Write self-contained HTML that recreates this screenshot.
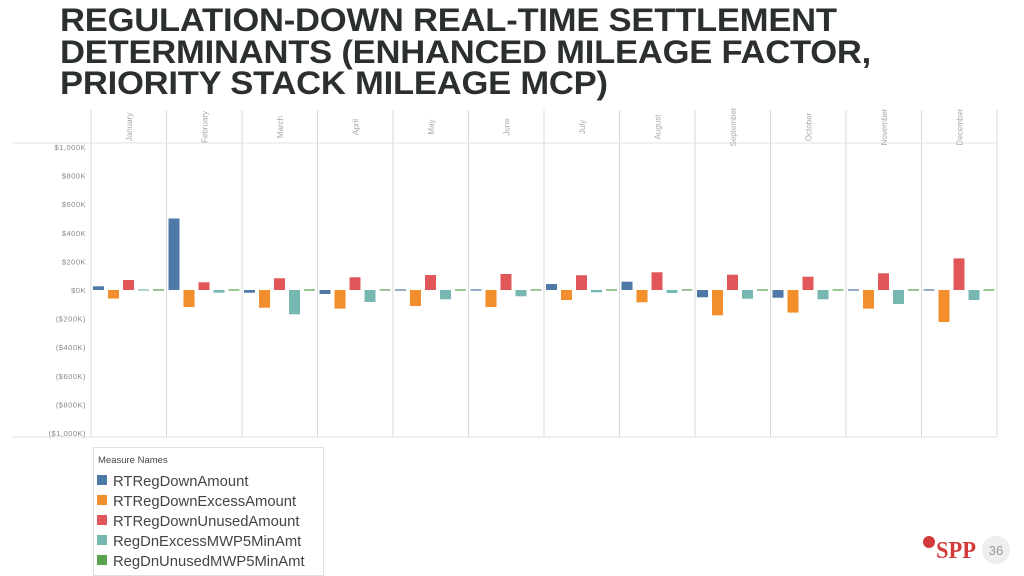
<!DOCTYPE html>
<html><head><meta charset="utf-8"><style>
body{margin:0;background:#fff;width:1024px;height:576px;overflow:hidden;font-family:"Liberation Sans",sans-serif}
#t{position:absolute;left:60px;top:5px;margin:0;font-size:32px;line-height:31.5px;font-weight:bold;color:#2b2f2f;letter-spacing:-0.2px;transform:scaleX(1.08);transform-origin:0 0;white-space:nowrap}
</style></head><body>
<h1 id="t">REGULATION-DOWN REAL-TIME SETTLEMENT<br>DETERMINANTS (ENHANCED MILEAGE FACTOR,<br>PRIORITY STACK MILEAGE MCP)</h1>
<svg id="c" width="1024" height="576" style="position:absolute;left:0;top:0"></svg>
<script>
const months=["January","February","March","April","May","June","July","August","September","October","November","December"];
const rtRegDown=[26,500,-19,-28,2,-5,42,58,-51,-54,2,-3];
const rtRegDownExcess=[-60,-119,-124,-130,-112,-119,-70,-86,-177,-158,-130,-224];
const rtRegDownUnused=[70,54,82,89,105,112,103,124,107,93,117,221];
const regDnExcessMW=[-3,-19,-170,-84,-65,-44,-16,-21,-61,-65,-98,-70];
const regDnUnusedMW=[-5,-3,-3,-2,-5,-3,-3,-5,-3,-3,-3,-8];
const seriesNames=["RTRegDownAmount","RTRegDownExcessAmount","RTRegDownUnusedAmount","RegDnExcessMWP5MinAmt","RegDnUnusedMWP5MinAmt"];
const yTicks=[1000,800,600,400,200,0,-200,-400,-600,-800,-1000];
const yTickLabels=["$1,000K","$800K","$600K","$400K","$200K","$0K","($200K)","($400K)","($600K)","($800K)","($1,000K)"];
const colors=["#4e79a7","#f28e2b","#e15759","#76b7b2","#59a14f"];
const series=[rtRegDown,rtRegDownExcess,rtRegDownUnused,regDnExcessMW,regDnUnusedMW];
const svg=document.getElementById('c');const NS="http://www.w3.org/2000/svg";
function mk(tag,at,txt){const e=document.createElementNS(NS,tag);for(const k in at)e.setAttribute(k,at[k]);if(txt!=null)e.textContent=txt;svg.appendChild(e);return e;}
const x0=91,colW=75.5,y=v=>290-v*0.143;
for(let i=0;i<=12;i++){const l=mk('line',{x1:x0+i*colW,x2:x0+i*colW,y1:110,y2:437,stroke:'#d8d8d8','stroke-width':1});

}
let h=mk('line',{x1:12,x2:997,y1:143,y2:143,stroke:'#e2e2e2'});
h=mk('line',{x1:12,x2:997,y1:437,y2:437,stroke:'#e2e2e2'});
yTicks.forEach((v,i)=>{const t=mk('text',{x:86,y:y(v)+3,'text-anchor':'end','font-size':7.5,fill:'#888','letter-spacing':'0.5'},yTickLabels[i]);

});
months.forEach((m,i)=>{const cx=x0+i*colW+colW/2;
const t=mk('text',{x:0,y:0,transform:`translate(${cx+3},${127}) rotate(-90)`,'text-anchor':'middle','font-size':8,fill:'#aaa'},m);


series.forEach((s,j)=>{const v=s[i];const bx=x0+i*colW+2+j*15;let y1=y(Math.max(v,0)),y2=y(Math.min(v,0));if(y2-y1<1.2){y1=290-0.6;y2=290+0.6;}
const r=mk('rect',{x:bx,y:y1,width:11,height:y2-y1,fill:colors[j]});

});});
// legend
let b=mk('rect',{x:93.5,y:447.5,width:230,height:128,fill:'#fff',stroke:'#e0e0e0'});
let lt=mk('text',{x:98,y:463,'font-size':9.5,fill:'#444'},'Measure Names');
seriesNames.forEach((n,j)=>{const yy=481+j*20;const s=mk('rect',{x:97,y:yy-6,width:10,height:10,fill:colors[j]});


const t=mk('text',{x:113,y:yy+5,'font-size':14.8,fill:'#444'},n);

});
// logo
let c=mk('circle',{cx:929,cy:542,r:6,fill:'#d33a3a'});
let lg=mk('text',{x:936,y:558,'font-size':24,'font-weight':'bold',fill:'#d33a3a','font-family':'Liberation Serif, serif',textLength:40,lengthAdjust:'spacingAndGlyphs'},'SPP');
c=mk('circle',{cx:996,cy:550,r:14,fill:'#eeeeee'});
let pn=mk('text',{x:996,y:555,'text-anchor':'middle','font-size':13,fill:'#999'},'36');
</script>
</body></html>
